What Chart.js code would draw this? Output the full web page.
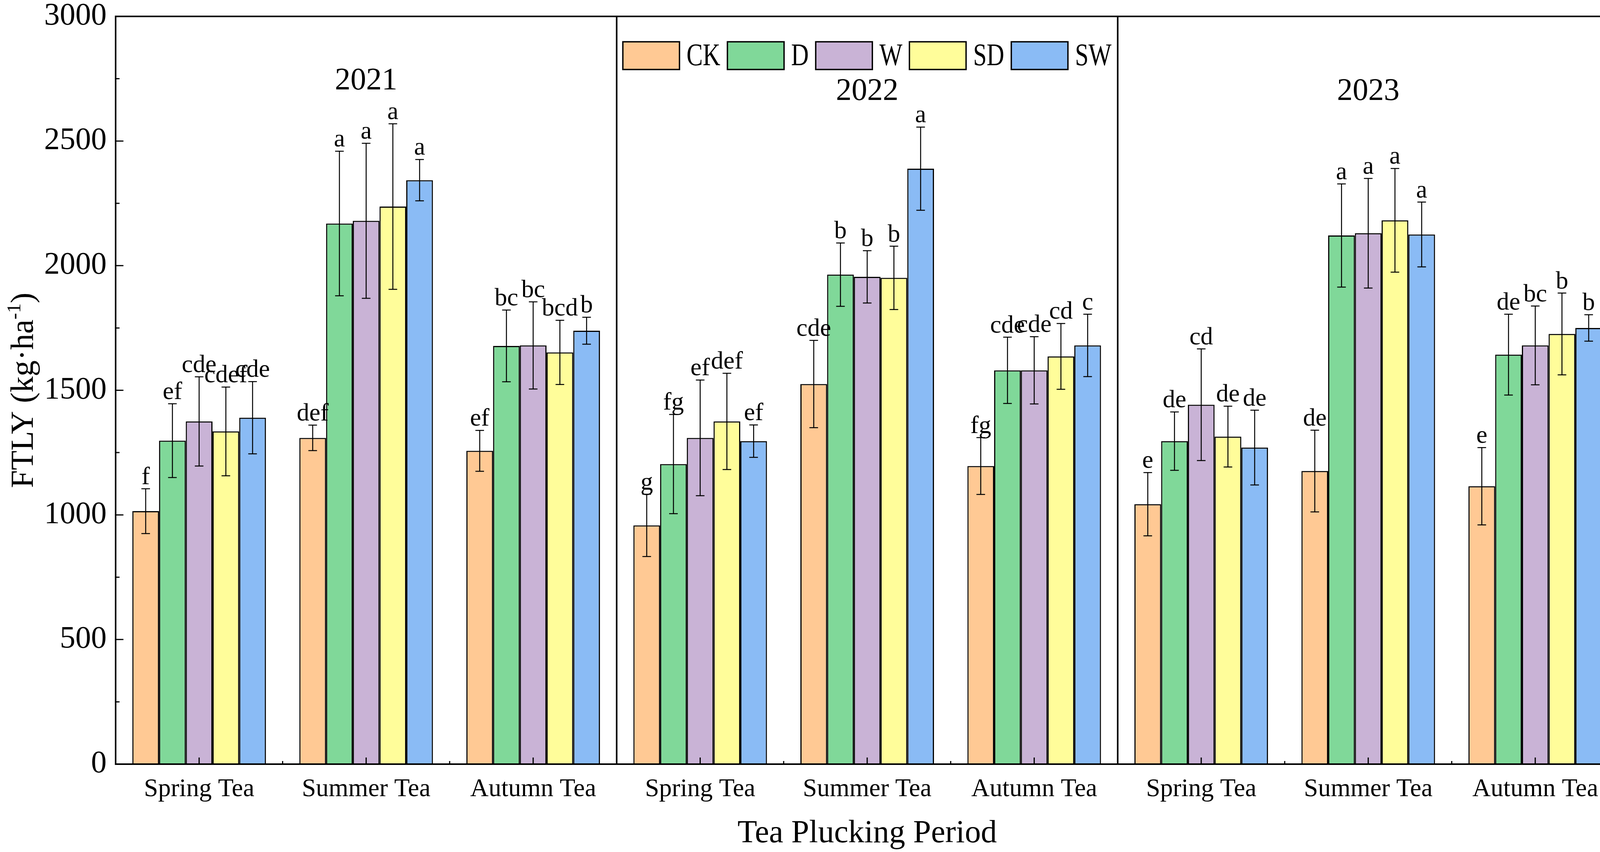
<!DOCTYPE html>
<html>
<head>
<meta charset="utf-8">
<script src="https://cdn.jsdelivr.net/npm/chart.js@4.4.1/dist/chart.umd.min.js"></script>
<style>
  html, body { margin: 0; padding: 0; background: #fff; overflow: hidden; }
  canvas { display: block; }
</style>
</head>
<body>
<canvas id="chart" width="4168" height="2182"></canvas>
<script>
// categories (three years x three plucking periods)
const years = ["2021", "2022", "2023"];
const periods = ["Spring Tea", "Summer Tea", "Autumn Tea"];
const categories = years.flatMap(() => periods);

// FTLY (kg/ha) means, SD and significance letters per treatment
const ckValues = [1015, 1309, 1257, 958, 1525, 1196, 1043, 1176, 1115];
const ckErrors = [90, 51, 82, 125, 175, 114, 127, 164, 155];
const ckLetters = ["f", "def", "ef", "g", "cde", "fg", "e", "de", "e"];

const dValues = [1298, 2169, 1678, 1204, 1964, 1580, 1296, 2121, 1643];
const dErrors = [148, 290, 144, 199, 127, 133, 117, 207, 162];
const dLetters = ["ef", "a", "bc", "fg", "b", "cde", "de", "a", "de"];

const wValues = [1375, 2180, 1680, 1309, 1955, 1580, 1442, 2130, 1680];
const wErrors = [179, 311, 175, 232, 105, 135, 224, 220, 158];
const wLetters = ["cde", "a", "bc", "ef", "b", "cde", "cd", "a", "bc"];

const sdValues = [1335, 2237, 1652, 1375, 1951, 1636, 1314, 2182, 1726];
const sdErrors = [178, 332, 129, 193, 127, 132, 122, 208, 164];
const sdLetters = ["cdef", "a", "bcd", "def", "b", "cd", "de", "a", "b"];

const swValues = [1390, 2343, 1739, 1296, 2389, 1680, 1270, 2125, 1750];
const swErrors = [145, 83, 54, 65, 167, 125, 150, 130, 53];
const swLetters = ["cde", "a", "b", "ef", "a", "c", "de", "a", "b"];

const yTicks = [0, 500, 1000, 1500, 2000, 2500, 3000];

const FONT = "'Liberation Serif', 'Times New Roman', serif";

const treatments = [
  { label: "CK", data: ckValues, err: ckErrors, sig: ckLetters, color: "#FFC994" },
  { label: "D",  data: dValues,  err: dErrors,  sig: dLetters,  color: "#80D899" },
  { label: "W",  data: wValues,  err: wErrors,  sig: wLetters,  color: "#C9B3D6" },
  { label: "SD", data: sdValues, err: sdErrors, sig: sdLetters, color: "#FFFD9A" },
  { label: "SW", data: swValues, err: swErrors, sig: swLetters, color: "#8ABBF5" }
];

// error bars, letters, frame, ticks, year labels, legend, y title
const decorPlugin = {
  id: "decor",
  afterDatasetsDraw(chart) {
    const { ctx, scales: { y } } = chart;
    ctx.save();
    chart.data.datasets.forEach((ds, di) => {
      const meta = chart.getDatasetMeta(di);
      const t = treatments[di];
      meta.data.forEach((bar, i) => {
        const v = ds.data[i];
        const e = t.err[i];
        const yTop = y.getPixelForValue(v + e);
        const yBot = y.getPixelForValue(v - e);
        const cx = bar.x;
        ctx.strokeStyle = "#000";
        ctx.lineWidth = 2.5;
        ctx.beginPath();
        ctx.moveTo(cx, yTop); ctx.lineTo(cx, yBot);
        ctx.moveTo(cx - 11, yTop); ctx.lineTo(cx + 11, yTop);
        ctx.moveTo(cx - 11, yBot); ctx.lineTo(cx + 11, yBot);
        ctx.stroke();
        ctx.fillStyle = "#000";
        ctx.font = "64px " + FONT;
        ctx.textAlign = "center";
        ctx.textBaseline = "alphabetic";
        ctx.fillText(t.sig[i], cx, yTop - 12);
      });
    });
    ctx.restore();
  },
  afterDraw(chart) {
    const { ctx, chartArea: a, scales: { x, y } } = chart;
    ctx.save();
    ctx.strokeStyle = "#000";
    ctx.fillStyle = "#000";

    // inward ticks on y axis
    ctx.lineWidth = 3;
    ctx.beginPath();
    for (let v = 0; v <= 3000; v += 250) {
      const py = y.getPixelForValue(v);
      const len = v % 500 === 0 ? 20 : 10;
      ctx.moveTo(a.left, py); ctx.lineTo(a.left + len, py);
    }
    // inward ticks on x axis
    const n = categories.length;
    for (let i = 0; i < n; i++) {
      const px = x.getPixelForValue(i);
      ctx.moveTo(px, a.bottom); ctx.lineTo(px, a.bottom - 17);
      if (i < n - 1 && (i + 1) % 3 !== 0) {
        const bx = (px + x.getPixelForValue(i + 1)) / 2;
        ctx.moveTo(bx, a.bottom); ctx.lineTo(bx, a.bottom - 8);
      }
    }
    ctx.stroke();

    // frame and panel dividers
    ctx.lineWidth = 4;
    ctx.strokeRect(a.left, a.top, a.right - a.left, a.bottom - a.top);
    ctx.beginPath();
    [2, 5].forEach(i => {
      const bx = (x.getPixelForValue(i) + x.getPixelForValue(i + 1)) / 2;
      ctx.moveTo(bx, a.top); ctx.lineTo(bx, a.bottom);
    });
    ctx.stroke();

    // year labels
    ctx.font = "80px " + FONT;
    ctx.textAlign = "center";
    ctx.textBaseline = "middle";
    years.forEach((yr, k) => {
      const px = x.getPixelForValue(k * 3 + 1);
      ctx.fillText(yr, px, a.top + (k === 0 ? 166 : 193));
    });

    // legend (text slightly condensed like the original)
    const boxW = 145, boxH = 71, gap = 18, squeeze = 0.78;
    ctx.font = "80px " + FONT;
    const widths = chart.data.datasets.map(ds => ctx.measureText(ds.label).width * squeeze);
    const total = widths.reduce((s, w) => s + boxW + gap + w, 0) + gap * (widths.length - 1);
    let lx = (a.left + a.right) / 2 - total / 2;
    const ly = a.top + 65;
    ctx.textAlign = "left";
    chart.data.datasets.forEach((ds, di) => {
      ctx.fillStyle = ds.backgroundColor;
      ctx.fillRect(lx, ly, boxW, boxH);
      ctx.lineWidth = 3.5;
      ctx.strokeRect(lx, ly, boxW, boxH);
      ctx.fillStyle = "#000";
      ctx.save();
      ctx.translate(lx + boxW + gap, ly + boxH / 2 + 3);
      ctx.scale(squeeze, 1);
      ctx.fillText(ds.label, 0, 0);
      ctx.restore();
      lx += boxW + gap + widths[di] + gap;
    });

    // y axis title with superscript
    const cy = (a.top + a.bottom) / 2;
    const main = "FTLY (kg\u00B7ha";
    const sup = "-1";
    const tail = ")";
    const bigFont = "82px " + FONT;
    const smallFont = "50px " + FONT;
    ctx.font = bigFont;
    const wMain = ctx.measureText(main).width;
    const wTail = ctx.measureText(tail).width;
    ctx.font = smallFont;
    const wSup = ctx.measureText(sup).width;
    const tw = wMain + wSup + wTail;
    ctx.translate(56, cy);
    ctx.rotate(-Math.PI / 2);
    ctx.textBaseline = "alphabetic";
    const base = 28;
    let tx = -tw / 2;
    ctx.font = bigFont;
    ctx.fillText(main, tx, base);
    tx += wMain;
    ctx.font = smallFont;
    ctx.fillText(sup, tx, base - 32);
    tx += wSup;
    ctx.font = bigFont;
    ctx.fillText(tail, tx, base);
    ctx.restore();
  }
};

const ctx = document.getElementById("chart").getContext("2d");
new Chart(ctx, {
  type: "bar",
  data: {
    labels: categories,
    datasets: treatments.map(t => ({
      label: t.label,
      data: t.data,
      backgroundColor: t.color,
      borderColor: "#000",
      borderWidth: 3,
      categoryPercentage: 0.8,
      barPercentage: 1.0
    }))
  },
  options: {
    responsive: false,
    animation: false,
    devicePixelRatio: 1,
    layout: { padding: { left: 0, top: 0, right: 24, bottom: 0 } },
    plugins: {
      legend: { display: false },
      tooltip: { enabled: false }
    },
    scales: {
      x: {
        grid: { display: false, drawTicks: false },
        border: { display: false },
        ticks: {
          color: "#000",
          padding: 26,
          maxRotation: 0,
          autoSkip: false,
          font: { family: FONT, size: 65 }
        },
        title: {
          display: true,
          text: "Tea Plucking Period",
          color: "#000",
          font: { family: FONT, size: 82, lineHeight: 1 },
          padding: { top: 0, bottom: 6 }
        },
        afterFit(scale) { scale.height = 225; }
      },
      y: {
        min: 0,
        max: 3000,
        afterBuildTicks(scale) { scale.ticks = yTicks.map(v => ({ value: v })); },
        grid: { display: false, drawTicks: false },
        border: { display: false },
        ticks: {
          color: "#000",
          padding: 23,
          font: { family: FONT, size: 80, lineHeight: 0.475 },
          callback: v => String(v)
        },
        afterFit(scale) { scale.width = 296; }
      }
    }
  },
  plugins: [decorPlugin]
});
</script>
</body>
</html>
